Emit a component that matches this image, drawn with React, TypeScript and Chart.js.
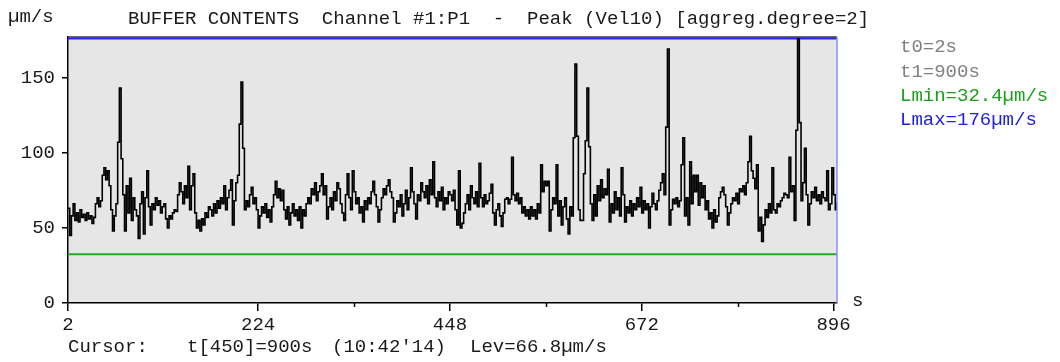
import React, { useEffect, useRef } from 'react';
import { Chart, registerables } from 'chart.js';

Chart.register(...registerables);

// ---- data ----
const T0 = 2; // s, first sample time
const T_STEP = 2; // s, aggregation degree 2
const velocity: number[] = [
  63, 45, 58, 66, 55, 60, 54, 62, 57, 59,
  55, 60, 56, 58, 53, 57, 66, 70, 64, 68,
  85, 90, 82, 88, 78, 62, 48, 58, 66, 107,
  143, 96, 72, 48, 78, 60, 83, 55, 70, 62,
  58, 43, 66, 74, 46, 70, 88, 64, 52, 66,
  62, 70, 65, 68, 60, 64, 66, 56, 50, 58,
  56, 60, 62, 61, 72, 80, 74, 66, 78, 70,
  91, 62, 78, 86, 60, 50, 55, 48, 56, 52,
  60, 57, 64, 62, 58, 66, 60, 68, 63, 70,
  66, 78, 62, 70, 75, 82, 52, 68, 80, 85,
  119, 147, 103, 62, 68, 64, 72, 77, 66, 70,
  62, 50, 58, 64, 60, 66, 57, 62, 54, 64,
  72, 81, 70, 76, 68, 75, 62, 56, 64, 52,
  60, 66, 58, 62, 55, 64, 50, 62, 58, 66,
  70, 66, 76, 72, 80, 68, 74, 78, 86, 72,
  78, 56, 64, 70, 62, 74, 68, 80, 76, 66,
  60, 55, 72, 86, 70, 62, 88, 74, 66, 70,
  60, 64, 54, 68, 62, 70, 66, 74, 81, 72,
  64, 54, 62, 70, 76, 72, 78, 82, 74, 70,
  54, 60, 68, 64, 72, 58, 66, 75, 62, 70,
  90, 74, 66, 56, 72, 68, 80, 74, 70, 78,
  66, 82, 72, 94, 70, 64, 74, 68, 77, 62,
  70, 66, 74, 72, 68, 75, 62, 52, 88, 50,
  53, 60, 66, 72, 62, 78, 70, 66, 74, 64,
  93, 70, 64, 72, 66, 68, 73, 79, 60, 52,
  62, 66, 58, 51, 60, 69, 70, 66, 69, 97,
  72, 68, 73, 66, 70, 60, 64, 58, 62, 56,
  64, 58, 62, 56, 66, 60, 92, 74, 81, 78,
  81, 48, 62, 70, 66, 92, 58, 68, 52, 64,
  70, 56, 46, 64, 58, 110, 159, 111, 62, 55,
  55, 86, 108, 143, 104, 66, 55, 72, 58, 78,
  68, 82, 70, 76, 72, 89, 54, 66, 60, 74,
  62, 70, 58, 90, 72, 54, 64, 60, 68, 58,
  66, 62, 70, 64, 77, 60, 68, 62, 66, 50,
  64, 73, 66, 62, 68, 75, 80, 86, 72, 117,
  169, 52, 62, 69, 66, 70, 64, 68, 92, 110,
  58, 70, 52, 94, 66, 85, 74, 85, 65, 80,
  70, 78, 62, 68, 56, 60, 50, 62, 54, 58,
  70, 74, 77, 72, 64, 52, 60, 66, 70, 68,
  73, 66, 76, 74, 78, 72, 80, 94, 111, 88,
  83, 76, 92, 48, 57, 41, 52, 62, 57, 66,
  60, 90, 62, 60, 66, 64, 68, 70, 73, 72,
  70, 97, 74, 78, 55, 115, 176, 120, 68, 80,
  103, 72, 52, 66, 74, 70, 77, 68, 72, 66,
  74, 70, 68, 88, 62, 66, 90, 72, 62, 66.8,
];
const L_MIN = 32.4;
const L_MAX = 176;
const X_MIN = 2;
const X_MAX = 900;
const Y_MIN = 0;
const Y_MAX = 177;
const xMajorTicks = [2, 224, 448, 672, 896];
const xMinorTicks = [336, 560, 784];
const yTicks = [0, 50, 100, 150];

// ---- texts ----
const unitLabel = 'µm/s';
const titleText = 'BUFFER CONTENTS  Channel #1:P1  -  Peak (Vel10) [aggreg.degree=2]';
const infoLines = ['t0=2s', 't1=900s', 'Lmin=32.4µm/s', 'Lmax=176µm/s'];
const cursorParts = ['Cursor:', 't[450]=900s', "(10:42'14)", 'Lev=66.8µm/s'];
const xUnit = 's';

// ---- styles ----
const FONT = '"Liberation Mono", "Courier New", monospace';
const FS = 19;
const TEXT_DARK = '#1a1a1a';
const INFO_COLORS = ['#808080', '#808080', '#1aa01a', '#2020e6'];
const INFO_Y = [47, 72, 96, 120];
const CURSOR_X = [68, 187, 332, 470];

export default function App() {
  const ref = useRef<HTMLCanvasElement | null>(null);

  useEffect(() => {
    document.body.style.margin = '0';
    const canvas = ref.current;
    if (!canvas) return;

    const series = velocity.map((v, i) => ({ x: T0 + i * T_STEP, y: v }));

    const decor = {
      id: 'decor',
      beforeDraw(chart: any) {
        const { ctx, chartArea } = chart;
        ctx.save();
        ctx.fillStyle = '#ffffff';
        ctx.fillRect(0, 0, chart.width, chart.height);
        ctx.fillStyle = '#e6e6e6';
        ctx.fillRect(chartArea.left, chartArea.top, chartArea.right - chartArea.left, chartArea.bottom - chartArea.top);
        ctx.restore();
      },
      afterDraw(chart: any) {
        const { ctx, chartArea } = chart;
        const xs = chart.scales.x;
        ctx.save();
        // frame top & right
        ctx.strokeStyle = '#3a3a3a';
        ctx.lineWidth = 1.5;
        ctx.beginPath();
        ctx.moveTo(chartArea.left, chartArea.top);
        ctx.lineTo(chartArea.right, chartArea.top);
        ctx.stroke();
        ctx.strokeStyle = '#8a8aff';
        ctx.beginPath();
        ctx.moveTo(chartArea.right, chartArea.top);
        ctx.lineTo(chartArea.right, chartArea.bottom);
        ctx.stroke();
        // minor x ticks
        ctx.strokeStyle = '#000';
        ctx.lineWidth = 1.5;
        xMinorTicks.forEach((v) => {
          const px = Math.round(xs.getPixelForValue(v)) + 0.5;
          ctx.beginPath();
          ctx.moveTo(px, chartArea.bottom);
          ctx.lineTo(px, chartArea.bottom + 4);
          ctx.stroke();
        });
        // texts
        ctx.font = `${FS}px ${FONT}`;
        ctx.textBaseline = 'middle';
        ctx.textAlign = 'left';
        ctx.fillStyle = TEXT_DARK;
        ctx.fillText(unitLabel, 8, 17);
        ctx.fillText(titleText, 128, 19);
        ctx.fillText(xUnit, 852, 301);
        cursorParts.forEach((t, i) => ctx.fillText(t, CURSOR_X[i], 347));
        infoLines.forEach((t, i) => {
          ctx.fillStyle = INFO_COLORS[i];
          ctx.fillText(t, 900, INFO_Y[i]);
        });
        ctx.restore();
      },
    };

    const chart = new Chart(canvas, {
      type: 'line',
      data: {
        datasets: [
          {
            data: series,
            borderColor: '#000000',
            borderWidth: 1.6,
            pointRadius: 0,
            stepped: true,
            fill: false,
          },
          {
            data: [{ x: X_MIN, y: L_MIN }, { x: X_MAX, y: L_MIN }],
            borderColor: '#22aa22',
            borderWidth: 2,
            pointRadius: 0,
            fill: false,
          },
          {
            data: [{ x: X_MIN, y: L_MAX }, { x: X_MAX, y: L_MAX }],
            borderColor: '#2222ff',
            borderWidth: 2,
            pointRadius: 0,
            fill: false,
          },
        ],
      },
      options: {
        animation: false,
        responsive: false,
        devicePixelRatio: 1,
        layout: { padding: { top: 37, right: 223, left: 0, bottom: 0 } },
        plugins: { legend: { display: false }, tooltip: { enabled: false }, title: { display: false } },
        scales: {
          x: {
            type: 'linear',
            min: X_MIN,
            max: X_MAX,
            afterBuildTicks: (s: any) => {
              s.ticks = xMajorTicks.map((v) => ({ value: v }));
            },
            afterFit: (s: any) => {
              s.height = 59;
            },
            ticks: {
              font: { family: FONT, size: FS },
              color: TEXT_DARK,
              padding: 3,
              maxRotation: 0,
              autoSkip: false,
              callback: (v: any) => String(v),
            },
            grid: { drawOnChartArea: false, drawTicks: true, tickLength: 8, color: '#000', lineWidth: 1.5 },
            border: { display: true, color: '#000', width: 1.5 },
          },
          y: {
            type: 'linear',
            min: Y_MIN,
            max: Y_MAX,
            afterBuildTicks: (s: any) => {
              s.ticks = yTicks.map((v) => ({ value: v }));
            },
            afterFit: (s: any) => {
              s.width = 68;
            },
            ticks: {
              font: { family: FONT, size: FS },
              color: TEXT_DARK,
              padding: 7,
              callback: (v: any) => String(v),
            },
            grid: { drawOnChartArea: false, drawTicks: true, tickLength: 6, color: '#000', lineWidth: 1.5 },
            border: { display: true, color: '#000', width: 1.5 },
          },
        },
      },
      plugins: [decor],
    } as any);

    return () => chart.destroy();
  }, []);

  return <canvas ref={ref} width={1060} height={362} style={{ display: 'block', width: 1060, height: 362 }} />;
}
